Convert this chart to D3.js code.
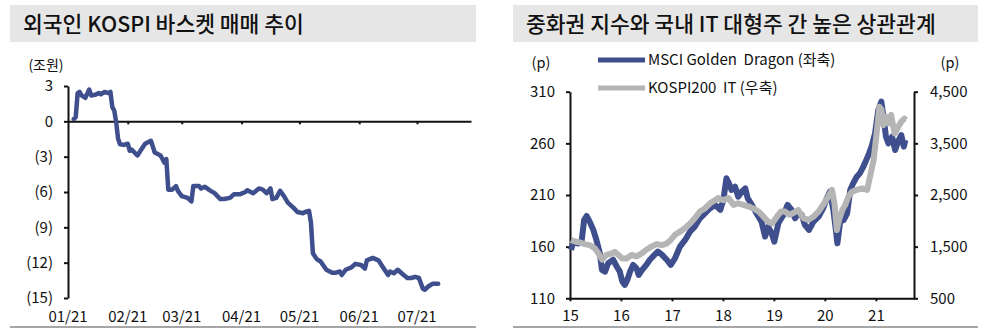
<!DOCTYPE html>
<html>
<head>
<meta charset="utf-8">
<script src="https://cdn.jsdelivr.net/npm/d3@7"></script>
<style>
  body { margin: 0; background: #fff; }
  svg { display: block; }
  text { font-family: "Noto Sans CJK KR", "Noto Sans", sans-serif; fill: #111; white-space: pre; }
</style>
</head>
<body>
<svg id="chart" width="1000" height="334"></svg>
<script>
// ---- Foreign investors' cumulative KOSPI basket trading (trillion won) ----
const flowDates = [
  "2021-01-04","2021-01-05","2021-01-06","2021-01-07","2021-01-08","2021-01-10","2021-01-12","2021-01-13",
  "2021-01-15","2021-01-17","2021-01-18","2021-01-20","2021-01-22","2021-01-23","2021-01-24","2021-01-25",
  "2021-01-26","2021-01-27","2021-01-28","2021-01-30","2021-02-01","2021-02-02","2021-02-03","2021-02-06",
  "2021-02-08","2021-02-10","2021-02-13","2021-02-15","2021-02-18","2021-02-20","2021-02-21","2021-02-22",
  "2021-02-24","2021-02-26","2021-02-27","2021-03-01","2021-03-04","2021-03-06","2021-03-07","2021-03-10",
  "2021-03-11","2021-03-13","2021-03-15","2021-03-16","2021-03-18","2021-03-21","2021-03-23","2021-03-26",
  "2021-03-28","2021-03-31","2021-04-03","2021-04-04","2021-04-07","2021-04-10","2021-04-12","2021-04-14",
  "2021-04-16","2021-04-17","2021-04-19","2021-04-21","2021-04-23","2021-04-25","2021-04-28","2021-04-30",
  "2021-05-03","2021-05-04","2021-05-06","2021-05-07","2021-05-08","2021-05-10","2021-05-12","2021-05-15",
  "2021-05-18","2021-05-20","2021-05-22","2021-05-23","2021-05-25","2021-05-28","2021-05-30","2021-06-02",
  "2021-06-04","2021-06-05","2021-06-08","2021-06-11","2021-06-13","2021-06-16","2021-06-17","2021-06-19",
  "2021-06-21","2021-06-23","2021-06-26","2021-06-28","2021-06-30","2021-07-02","2021-07-04","2021-07-05",
  "2021-07-07","2021-07-09","2021-07-12"
];
const flowValues = [
  0.2, 0.35, 2.4, 2.5, 2.2, 2.0, 2.7, 2.2,
  2.25, 2.4, 2.3, 2.5, 2.4, 2.5, 1.2, 0.9,
  -0.1, -1.5, -1.94, -2.0, -1.9, -2.5, -2.4, -2.9,
  -2.4, -1.9, -1.65, -2.65, -2.9, -3.5, -3.2, -5.8,
  -5.8, -5.5, -5.9, -6.35, -6.5, -6.8, -5.5, -5.5,
  -5.7, -5.55, -5.8, -5.9, -6.1, -6.6, -6.6, -6.5,
  -6.2, -6.2, -6.0, -5.85, -6.1, -5.7, -5.8, -6.1,
  -5.7, -6.6, -6.5, -5.9, -6.35, -6.9, -7.35, -7.7,
  -7.8, -7.7, -7.6, -8.6, -11.2, -11.7, -11.9, -12.6,
  -12.85, -12.85, -12.75, -13.05, -12.6, -12.4, -12.1, -12.2,
  -12.5, -11.8, -11.6, -11.8, -12.3, -13.05, -12.75, -12.9,
  -12.6, -12.9, -13.3, -13.3, -13.2, -13.3, -14.2, -14.3,
  -14.0, -13.8, -13.8
];
const flowTicks = [3, 0, -3, -6, -9, -12, -15];
const monthTicks = ["2021-01-01","2021-02-01","2021-03-01","2021-04-01","2021-05-01","2021-06-01","2021-07-01"];

// ---- MSCI Golden Dragon (left axis) vs KOSPI200 IT (right axis) ----
const mgdDates = [
  "2015-01-08","2015-01-26","2015-02-27","2015-03-25","2015-04-12","2015-04-30","2015-05-22","2015-06-17",
  "2015-07-09","2015-08-03","2015-08-18","2015-09-09","2015-10-01","2015-11-06","2015-12-02","2015-12-24",
  "2016-01-11","2016-01-29","2016-02-16","2016-03-06","2016-03-28","2016-04-22","2016-05-07","2016-06-01",
  "2016-07-01","2016-07-26","2016-08-28","2016-09-22","2016-10-22","2016-11-24","2016-12-23","2017-01-22",
  "2017-02-27","2017-04-05","2017-05-11","2017-06-13","2017-07-20","2017-08-25","2017-10-01","2017-11-06",
  "2017-12-13","2018-01-04","2018-01-26","2018-02-13","2018-03-03","2018-03-29","2018-04-20","2018-05-15",
  "2018-06-10","2018-06-28","2018-07-27","2018-08-29","2018-10-04","2018-10-30","2018-11-21","2018-12-16",
  "2019-01-04","2019-02-02","2019-03-10","2019-04-09","2019-05-08","2019-06-02","2019-06-24","2019-07-20",
  "2019-08-11","2019-09-09","2019-10-12","2019-11-17","2019-12-20","2020-01-15","2020-02-06","2020-03-02",
  "2020-03-20","2020-03-31","2020-04-20","2020-05-15","2020-06-09","2020-07-01","2020-07-22","2020-08-17",
  "2020-09-08","2020-10-03","2020-10-29","2020-11-13","2020-12-01","2020-12-26","2021-01-18","2021-02-09",
  "2021-02-24","2021-03-14","2021-04-01","2021-04-27","2021-05-19","2021-06-13","2021-07-02","2021-07-20",
  "2021-07-31"
];
const mgdValues = [
  156.8, 164.8, 163, 164.8, 185.8, 189.7, 184.2, 176.2,
  166.5, 153.6, 137.5, 135.8, 144, 147.3, 140.8, 135.8,
  126.3, 123, 127.8, 135.8, 142.3, 139, 132.6, 137.5,
  142.3, 147.3, 152, 155.3, 152, 147.3, 142.3, 148.7,
  160, 166.5, 174.6, 179.4, 187.5, 192.3, 197.2, 200.4,
  195.6, 205.2, 226.2, 221.3, 214.8, 218, 208.4, 213.2,
  216.4, 206.7, 200.4, 192.3, 184.2, 169.7, 179.4, 172.9,
  164.8, 182.6, 190.6, 200.4, 195.6, 187.5, 192.3, 190.6,
  181, 176.2, 184.2, 189, 197.2, 206.7, 213.2, 195.6,
  176.2, 163.2, 184.2, 185.8, 192.3, 214.8, 221.3, 227.7,
  231, 237.4, 245.5, 250.3, 256.8, 269.7, 292.3, 300.4,
  285.8, 266.4, 260, 266.4, 253.5, 263.2, 268, 256.8,
  263.2
];
const k200Dates = [
  "2015-01-08","2015-02-06","2015-03-15","2015-04-16","2015-05-22","2015-06-28","2015-07-24","2015-08-18",
  "2015-09-20","2015-10-27","2015-11-18","2015-12-14","2016-01-11","2016-02-10","2016-03-17","2016-04-22",
  "2016-05-29","2016-07-01","2016-08-07","2016-09-13","2016-10-19","2016-11-24","2016-12-23","2017-01-22",
  "2017-02-27","2017-04-05","2017-05-11","2017-06-13","2017-07-20","2017-08-25","2017-10-01","2017-11-06",
  "2017-11-28","2018-01-04","2018-02-09","2018-03-18","2018-04-20","2018-05-27","2018-07-02","2018-08-08",
  "2018-09-13","2018-10-19","2018-11-21","2018-12-20","2019-01-22","2019-02-21","2019-03-22","2019-04-20",
  "2019-05-19","2019-06-24","2019-07-31","2019-09-06","2019-10-12","2019-11-17","2019-12-20","2020-01-26",
  "2020-02-21","2020-03-10","2020-03-27","2020-04-12","2020-05-05","2020-05-27","2020-06-18","2020-07-13",
  "2020-08-19","2020-09-24","2020-10-30","2020-11-25","2020-12-16","2021-01-11","2021-01-26","2021-02-10",
  "2021-02-24","2021-03-14","2021-04-01","2021-04-20","2021-05-15","2021-06-10","2021-07-02","2021-07-24",
  "2021-07-31"
];
const k200Values = [
  1630, 1600, 1580, 1550, 1530, 1470, 1370, 1250,
  1340, 1370, 1400, 1340, 1270, 1270, 1340, 1310,
  1370, 1440, 1500, 1550, 1530, 1560, 1630, 1730,
  1790, 1860, 1950, 2050, 2180, 2240, 2340, 2400,
  2440, 2400, 2440, 2310, 2340, 2310, 2280, 2240,
  2180, 2080, 1980, 1950, 2080, 2180, 2180, 2120,
  2150, 2210, 2050, 2020, 2080, 2180, 2310, 2470,
  2600, 2340, 1820, 2020, 2210, 2310, 2470, 2560,
  2600, 2630, 2600, 2920, 3180, 3820, 4210, 4150,
  3850, 4020, 3890, 4050, 3690, 3820, 3920, 3980,
  3950
];
const mgdTicks = [110, 160, 210, 260, 310];
const k200Ticks = [500, 1500, 2500, 3500, 4500];
const yearTicks = ["2015-01-01","2016-01-01","2017-01-01","2018-01-01","2019-01-01","2020-01-01","2021-01-01"];

const titles = ["외국인 KOSPI 바스켓 매매 추이", "중화권 지수와 국내 IT 대형주 간 높은 상관관계"];
const legendLabels = ["MSCI Golden  Dragon (좌축)", "KOSPI200  IT (우축)"];

const BLUE = "#3f4f8d";
const GREY = "#b5b5b5";
const AXIS = "#111";
const FONT = "'Noto Sans CJK KR', 'Noto Sans', sans-serif";

const parse = d3.timeParse("%Y-%m-%d");
const svg = d3.select("#chart");

// Title bars and bottom rules
const panels = [{x0: 10, x1: 476}, {x0: 513, x1: 978}];
panels.forEach((p, i) => {
  svg.append("rect").attr("x", p.x0).attr("y", 5).attr("width", p.x1 - p.x0).attr("height", 37)
    .attr("fill", "#e6e6e6");
  svg.append("text").attr("x", p.x0 + 13).attr("y", 31.5).attr("font-size", 21.5).attr("font-weight", 500)
    .text(titles[i]);
  svg.append("line").attr("x1", p.x0).attr("x2", p.x1).attr("y1", 327).attr("y2", 327)
    .attr("stroke", "#a6a6a6").attr("stroke-width", 2);
});

function styleAxis(g) {
  g.selectAll("path.domain").attr("stroke", AXIS).attr("stroke-width", 2);
  g.selectAll(".tick line").attr("stroke", AXIS).attr("stroke-width", 2);
  g.selectAll(".tick text").attr("font-size", 15).attr("fill", "#111").attr("font-family", FONT);
}

// ---------- Left chart ----------
{
  const x = d3.scaleTime().domain([parse("2021-01-01"), parse("2021-07-29")]).range([68, 471]);
  const y = d3.scaleLinear().domain([-15, 3]).range([298, 86]);
  const fmt = v => v < 0 ? `(${-v})` : `${v}`;

  const ya = svg.append("g").attr("transform", "translate(68,0)")
    .call(d3.axisLeft(y).tickValues(flowTicks).tickFormat(fmt).tickSize(4).tickPadding(11).tickSizeOuter(0));
  styleAxis(ya);

  const xa = svg.append("g").attr("transform", `translate(0,${y(0)})`)
    .call(d3.axisBottom(x).tickValues(monthTicks.slice(1).map(parse)).tickFormat("").tickSize(3).tickSizeOuter(0));
  styleAxis(xa);

  svg.append("g").selectAll("text").data(monthTicks).join("text")
    .attr("x", d => x(parse(d))).attr("y", 322).attr("text-anchor", "middle").attr("font-size", 15)
    .text(d => d3.timeFormat("%m/%y")(parse(d)));

  svg.append("text").attr("x", 46).attr("y", 70).attr("text-anchor", "middle").attr("font-size", 14)
    .text("(조원)");

  const pts = flowDates.map((d, i) => [parse(d), flowValues[i]]);
  svg.append("path").datum(pts)
    .attr("fill", "none").attr("stroke", BLUE).attr("stroke-width", 4.5)
    .attr("stroke-linejoin", "round").attr("stroke-linecap", "round")
    .attr("d", d3.line().x(d => x(d[0])).y(d => y(d[1])));
}

// ---------- Right chart ----------
{
  const x = d3.scaleTime().domain([parse("2015-01-01"), parse("2021-10-01")]).range([570, 914]);
  const yL = d3.scaleLinear().domain([110, 310]).range([298.3, 91.7]);
  const yR = d3.scaleLinear().domain([500, 4500]).range([298.3, 91.7]);

  const la = svg.append("g").attr("transform", "translate(570,0)")
    .call(d3.axisLeft(yL).tickValues(mgdTicks).tickSize(4).tickPadding(11).tickSizeOuter(0));
  styleAxis(la);

  const ra = svg.append("g").attr("transform", "translate(914,0)")
    .call(d3.axisRight(yR).tickValues(k200Ticks).tickFormat(d3.format(",")).tickSize(4).tickPadding(12).tickSizeOuter(0));
  styleAxis(ra);

  const ba = svg.append("g").attr("transform", "translate(0,298.3)")
    .call(d3.axisBottom(x).tickValues(yearTicks.map(parse)).tickFormat(d3.timeFormat("%y"))
      .tickSize(3).tickPadding(9).tickSizeOuter(0));
  styleAxis(ba);

  svg.append("text").attr("x", 541).attr("y", 68).attr("text-anchor", "middle").attr("font-size", 14.5).text("(p)");
  svg.append("text").attr("x", 950).attr("y", 68).attr("text-anchor", "middle").attr("font-size", 14.5).text("(p)");

  const line = (ys) => d3.line().x(d => x(d[0])).y(d => ys(d[1]));
  const mgd = mgdDates.map((d, i) => [parse(d), mgdValues[i]]);
  const k200 = k200Dates.map((d, i) => [parse(d), k200Values[i]]);

  svg.append("path").datum(mgd).attr("fill", "none").attr("stroke", BLUE).attr("stroke-width", 6)
    .attr("stroke-linejoin", "round").attr("d", line(yL));
  svg.append("path").datum(k200).attr("fill", "none").attr("stroke", GREY).attr("stroke-width", 6)
    .attr("stroke-linejoin", "round").attr("d", line(yR));

  // Legend
  const lg = svg.append("g");
  [BLUE, GREY].forEach((c, i) => {
    const yy = 60 + i * 28;
    lg.append("line").attr("x1", 598).attr("x2", 645).attr("y1", yy).attr("y2", yy)
      .attr("stroke", c).attr("stroke-width", 5);
    lg.append("text").attr("x", 648).attr("y", yy + 5).attr("font-size", 15).text(legendLabels[i]);
  });
}
</script>
</body>
</html>
